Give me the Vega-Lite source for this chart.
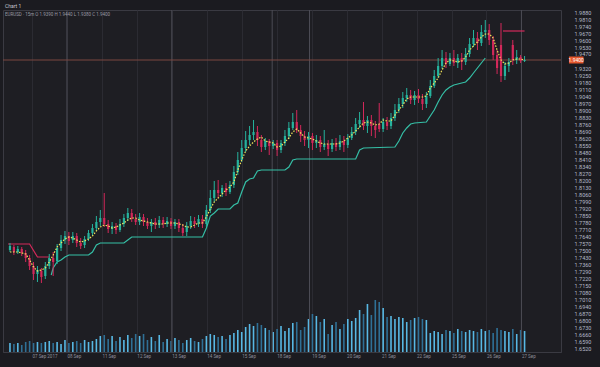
{
"$schema": "https://vega.github.io/schema/vega-lite/v6.json",
"width": 558, "height": 342,
"autosize": {"type": "none"},
"padding": {"left": 3, "top": 10, "right": 39, "bottom": 15},
"background": "#1b1b20",
"config": {"view": {"fill": "#1e1e23", "stroke": "#3a3a42"}, "font": "Roboto", "axis": {"labelOverlap": false, "labelBound": false, "labelFlush": false}},
"title": {"text": "Chart 1", "subtitle": "EURUSD · 15m   O 1.9390  H 1.9440  L 1.9380  C 1.9400", "anchor": "start", "frame": "group", "fontSize": 5, "fontWeight": "normal", "color": "#c8c8d0", "subtitleFontSize": 4.5, "subtitleColor": "#9a9aa4", "subtitlePadding": 3, "offset": -7, "dx": 2},
"datasets": {
"candles": [
{"i":0,"o":1.750,"h":1.757,"l":1.748,"c":1.754,"m":1.748,"v":90},
{"i":1,"o":1.753,"h":1.755,"l":1.745,"c":1.748,"m":1.748,"v":80},
{"i":2,"o":1.748,"h":1.754,"l":1.746,"c":1.751,"m":1.748,"v":90},
{"i":3,"o":1.751,"h":1.753,"l":1.744,"c":1.747,"m":1.747,"v":70},
{"i":4,"o":1.747,"h":1.750,"l":1.738,"c":1.742,"m":1.746,"v":100},
{"i":5,"o":1.742,"h":1.745,"l":1.730,"c":1.734,"m":1.740,"v":110},
{"i":6,"o":1.734,"h":1.738,"l":1.720,"c":1.726,"m":1.733,"v":90},
{"i":7,"o":1.726,"h":1.734,"l":1.718,"c":1.730,"m":1.729,"v":100},
{"i":8,"o":1.729,"h":1.732,"l":1.717,"c":1.723,"m":1.730,"v":90},
{"i":9,"o":1.724,"h":1.738,"l":1.721,"c":1.734,"m":1.732,"v":100},
{"i":10,"o":1.734,"h":1.746,"l":1.731,"c":1.742,"m":1.738,"v":110},
{"i":11,"o":1.742,"h":1.748,"l":1.724,"c":1.738,"m":1.745,"v":90},
{"i":12,"o":1.739,"h":1.756,"l":1.736,"c":1.752,"m":1.753,"v":100},
{"i":13,"o":1.752,"h":1.765,"l":1.749,"c":1.760,"m":1.757,"v":80},
{"i":14,"o":1.760,"h":1.769,"l":1.756,"c":1.764,"m":1.761,"v":120},
{"i":15,"o":1.764,"h":1.768,"l":1.755,"c":1.759,"m":1.763,"v":90},
{"i":16,"o":1.760,"h":1.768,"l":1.757,"c":1.764,"m":1.762,"v":100},
{"i":17,"o":1.764,"h":1.767,"l":1.753,"c":1.757,"m":1.760,"v":110},
{"i":18,"o":1.757,"h":1.762,"l":1.751,"c":1.754,"m":1.758,"v":90},
{"i":19,"o":1.755,"h":1.764,"l":1.752,"c":1.761,"m":1.759,"v":120},
{"i":20,"o":1.761,"h":1.770,"l":1.759,"c":1.767,"m":1.761,"v":100},
{"i":21,"o":1.767,"h":1.776,"l":1.764,"c":1.772,"m":1.764,"v":110},
{"i":22,"o":1.772,"h":1.784,"l":1.769,"c":1.778,"m":1.769,"v":130},
{"i":23,"o":1.778,"h":1.790,"l":1.774,"c":1.782,"m":1.773,"v":160},
{"i":24,"o":1.782,"h":1.807,"l":1.773,"c":1.776,"m":1.775,"v":170},
{"i":25,"o":1.776,"h":1.780,"l":1.767,"c":1.771,"m":1.774,"v":130},
{"i":26,"o":1.771,"h":1.778,"l":1.766,"c":1.774,"m":1.772,"v":160},
{"i":27,"o":1.774,"h":1.777,"l":1.766,"c":1.770,"m":1.773,"v":110},
{"i":28,"o":1.770,"h":1.781,"l":1.768,"c":1.776,"m":1.775,"v":150},
{"i":29,"o":1.776,"h":1.786,"l":1.773,"c":1.782,"m":1.777,"v":120},
{"i":30,"o":1.782,"h":1.792,"l":1.779,"c":1.787,"m":1.780,"v":170},
{"i":31,"o":1.787,"h":1.791,"l":1.778,"c":1.781,"m":1.782,"v":140},
{"i":32,"o":1.781,"h":1.786,"l":1.775,"c":1.778,"m":1.782,"v":180},
{"i":33,"o":1.778,"h":1.787,"l":1.775,"c":1.783,"m":1.780,"v":160},
{"i":34,"o":1.783,"h":1.786,"l":1.774,"c":1.778,"m":1.779,"v":180},
{"i":35,"o":1.778,"h":1.782,"l":1.771,"c":1.774,"m":1.778,"v":120},
{"i":36,"o":1.774,"h":1.781,"l":1.768,"c":1.778,"m":1.777,"v":150},
{"i":37,"o":1.778,"h":1.782,"l":1.771,"c":1.775,"m":1.776,"v":110},
{"i":38,"o":1.775,"h":1.784,"l":1.772,"c":1.780,"m":1.776,"v":170},
{"i":39,"o":1.780,"h":1.783,"l":1.772,"c":1.776,"m":1.776,"v":100},
{"i":40,"o":1.776,"h":1.783,"l":1.773,"c":1.779,"m":1.777,"v":130},
{"i":41,"o":1.779,"h":1.782,"l":1.771,"c":1.774,"m":1.777,"v":110},
{"i":42,"o":1.774,"h":1.781,"l":1.771,"c":1.778,"m":1.777,"v":140},
{"i":43,"o":1.778,"h":1.781,"l":1.768,"c":1.772,"m":1.776,"v":120},
{"i":44,"o":1.772,"h":1.776,"l":1.764,"c":1.767,"m":1.775,"v":90},
{"i":45,"o":1.768,"h":1.778,"l":1.764,"c":1.774,"m":1.773,"v":120},
{"i":46,"o":1.774,"h":1.784,"l":1.771,"c":1.779,"m":1.773,"v":140},
{"i":47,"o":1.779,"h":1.783,"l":1.772,"c":1.776,"m":1.775,"v":110},
{"i":48,"o":1.776,"h":1.785,"l":1.773,"c":1.781,"m":1.777,"v":100},
{"i":49,"o":1.781,"h":1.785,"l":1.772,"c":1.776,"m":1.777,"v":130},
{"i":50,"o":1.776,"h":1.795,"l":1.773,"c":1.790,"m":1.783,"v":160},
{"i":51,"o":1.790,"h":1.810,"l":1.787,"c":1.802,"m":1.791,"v":180},
{"i":52,"o":1.802,"h":1.819,"l":1.798,"c":1.810,"m":1.798,"v":170},
{"i":53,"o":1.810,"h":1.820,"l":1.802,"c":1.807,"m":1.802,"v":150},
{"i":54,"o":1.807,"h":1.815,"l":1.803,"c":1.812,"m":1.806,"v":160},
{"i":55,"o":1.812,"h":1.817,"l":1.804,"c":1.808,"m":1.810,"v":130},
{"i":56,"o":1.808,"h":1.819,"l":1.806,"c":1.815,"m":1.813,"v":170},
{"i":57,"o":1.815,"h":1.834,"l":1.812,"c":1.828,"m":1.818,"v":190},
{"i":58,"o":1.828,"h":1.848,"l":1.825,"c":1.840,"m":1.830,"v":220},
{"i":59,"o":1.840,"h":1.860,"l":1.838,"c":1.852,"m":1.840,"v":200},
{"i":60,"o":1.852,"h":1.869,"l":1.848,"c":1.860,"m":1.849,"v":250},
{"i":61,"o":1.860,"h":1.874,"l":1.855,"c":1.865,"m":1.854,"v":280},
{"i":62,"o":1.865,"h":1.880,"l":1.860,"c":1.868,"m":1.858,"v":260},
{"i":63,"o":1.868,"h":1.874,"l":1.854,"c":1.860,"m":1.861,"v":290},
{"i":64,"o":1.860,"h":1.865,"l":1.848,"c":1.853,"m":1.863,"v":270},
{"i":65,"o":1.853,"h":1.862,"l":1.850,"c":1.859,"m":1.859,"v":240},
{"i":66,"o":1.859,"h":1.861,"l":1.845,"c":1.854,"m":1.858,"v":220},
{"i":67,"o":1.854,"h":1.860,"l":1.851,"c":1.857,"m":1.857,"v":200},
{"i":68,"o":1.857,"h":1.860,"l":1.844,"c":1.850,"m":1.853,"v":230},
{"i":69,"o":1.850,"h":1.860,"l":1.847,"c":1.857,"m":1.854,"v":260},
{"i":70,"o":1.857,"h":1.870,"l":1.854,"c":1.864,"m":1.858,"v":210},
{"i":71,"o":1.864,"h":1.878,"l":1.861,"c":1.872,"m":1.862,"v":240},
{"i":72,"o":1.872,"h":1.887,"l":1.870,"c":1.878,"m":1.868,"v":290},
{"i":73,"o":1.878,"h":1.890,"l":1.867,"c":1.870,"m":1.871,"v":300},
{"i":74,"o":1.870,"h":1.875,"l":1.858,"c":1.864,"m":1.867,"v":220},
{"i":75,"o":1.864,"h":1.869,"l":1.854,"c":1.860,"m":1.863,"v":250},
{"i":76,"o":1.860,"h":1.868,"l":1.852,"c":1.864,"m":1.862,"v":330},
{"i":77,"o":1.864,"h":1.867,"l":1.850,"c":1.857,"m":1.861,"v":380},
{"i":78,"o":1.857,"h":1.865,"l":1.852,"c":1.860,"m":1.859,"v":360},
{"i":79,"o":1.860,"h":1.864,"l":1.848,"c":1.853,"m":1.857,"v":300},
{"i":80,"o":1.853,"h":1.870,"l":1.850,"c":1.856,"m":1.856,"v":330},
{"i":81,"o":1.856,"h":1.860,"l":1.844,"c":1.851,"m":1.856,"v":180},
{"i":82,"o":1.851,"h":1.861,"l":1.848,"c":1.857,"m":1.856,"v":270},
{"i":83,"o":1.857,"h":1.862,"l":1.849,"c":1.853,"m":1.856,"v":300},
{"i":84,"o":1.853,"h":1.865,"l":1.850,"c":1.859,"m":1.857,"v":230},
{"i":85,"o":1.859,"h":1.864,"l":1.848,"c":1.855,"m":1.859,"v":280},
{"i":86,"o":1.855,"h":1.866,"l":1.852,"c":1.862,"m":1.862,"v":330},
{"i":87,"o":1.862,"h":1.873,"l":1.860,"c":1.868,"m":1.865,"v":310},
{"i":88,"o":1.868,"h":1.882,"l":1.865,"c":1.876,"m":1.869,"v":340},
{"i":89,"o":1.876,"h":1.888,"l":1.872,"c":1.880,"m":1.873,"v":420},
{"i":90,"o":1.880,"h":1.898,"l":1.870,"c":1.874,"m":1.877,"v":380},
{"i":91,"o":1.874,"h":1.884,"l":1.867,"c":1.880,"m":1.878,"v":480},
{"i":92,"o":1.880,"h":1.885,"l":1.864,"c":1.874,"m":1.877,"v":370},
{"i":93,"o":1.874,"h":1.879,"l":1.862,"c":1.870,"m":1.875,"v":520},
{"i":94,"o":1.876,"h":1.897,"l":1.868,"c":1.871,"m":1.876,"v":500},
{"i":95,"o":1.871,"h":1.882,"l":1.868,"c":1.878,"m":1.880,"v":440},
{"i":96,"o":1.878,"h":1.883,"l":1.870,"c":1.874,"m":1.879,"v":350},
{"i":97,"o":1.874,"h":1.887,"l":1.871,"c":1.882,"m":1.879,"v":360},
{"i":98,"o":1.882,"h":1.896,"l":1.879,"c":1.890,"m":1.885,"v":330},
{"i":99,"o":1.890,"h":1.902,"l":1.887,"c":1.896,"m":1.890,"v":350},
{"i":100,"o":1.896,"h":1.908,"l":1.892,"c":1.902,"m":1.895,"v":340},
{"i":101,"o":1.902,"h":1.912,"l":1.898,"c":1.905,"m":1.901,"v":300},
{"i":102,"o":1.905,"h":1.910,"l":1.896,"c":1.900,"m":1.903,"v":320},
{"i":103,"o":1.900,"h":1.909,"l":1.895,"c":1.905,"m":1.903,"v":340},
{"i":104,"o":1.905,"h":1.911,"l":1.897,"c":1.901,"m":1.903,"v":350},
{"i":105,"o":1.901,"h":1.906,"l":1.890,"c":1.896,"m":1.903,"v":330},
{"i":106,"o":1.896,"h":1.908,"l":1.892,"c":1.904,"m":1.904,"v":320},
{"i":107,"o":1.904,"h":1.920,"l":1.902,"c":1.914,"m":1.912,"v":190},
{"i":108,"o":1.914,"h":1.930,"l":1.912,"c":1.924,"m":1.917,"v":210},
{"i":109,"o":1.924,"h":1.942,"l":1.922,"c":1.934,"m":1.922,"v":200},
{"i":110,"o":1.934,"h":1.950,"l":1.931,"c":1.942,"m":1.930,"v":180},
{"i":111,"o":1.942,"h":1.948,"l":1.932,"c":1.936,"m":1.937,"v":220},
{"i":112,"o":1.936,"h":1.947,"l":1.934,"c":1.942,"m":1.940,"v":210},
{"i":113,"o":1.942,"h":1.950,"l":1.934,"c":1.937,"m":1.939,"v":190},
{"i":114,"o":1.937,"h":1.946,"l":1.932,"c":1.942,"m":1.938,"v":230},
{"i":115,"o":1.942,"h":1.947,"l":1.930,"c":1.938,"m":1.939,"v":210},
{"i":116,"o":1.938,"h":1.952,"l":1.935,"c":1.946,"m":1.943,"v":200},
{"i":117,"o":1.946,"h":1.962,"l":1.943,"c":1.956,"m":1.950,"v":220},
{"i":118,"o":1.956,"h":1.970,"l":1.953,"c":1.962,"m":1.954,"v":210},
{"i":119,"o":1.962,"h":1.968,"l":1.950,"c":1.957,"m":1.958,"v":200},
{"i":120,"o":1.957,"h":1.975,"l":1.954,"c":1.968,"m":1.963,"v":230},
{"i":121,"o":1.968,"h":1.980,"l":1.962,"c":1.970,"m":1.966,"v":210},
{"i":122,"o":1.970,"h":1.976,"l":1.955,"c":1.960,"m":1.966,"v":220},
{"i":123,"o":1.960,"h":1.964,"l":1.940,"c":1.945,"m":1.962,"v":190},
{"i":124,"o":1.945,"h":1.950,"l":1.926,"c":1.932,"m":1.950,"v":240},
{"i":125,"o":1.955,"h":1.977,"l":1.918,"c":1.924,"m":1.940,"v":220},
{"i":126,"o":1.924,"h":1.938,"l":1.920,"c":1.934,"m":1.936,"v":210},
{"i":127,"o":1.934,"h":1.942,"l":1.928,"c":1.938,"m":1.937,"v":200},
{"i":128,"o":1.955,"h":1.960,"l":1.935,"c":1.940,"m":1.940,"v":230},
{"i":129,"o":1.940,"h":1.950,"l":1.936,"c":1.943,"m":1.941,"v":180},
{"i":130,"o":1.943,"h":1.945,"l":1.937,"c":1.939,"m":1.941,"v":220},
{"i":131,"o":1.939,"h":1.944,"l":1.938,"c":1.940,"m":1.940,"v":210}
],
"stops": [
{"i":10.5,"v":1.725,"s":"long"},{"i":11,"v":1.732,"s":"long"},{"i":12,"v":1.738,"s":"long"},{"i":13,"v":1.740,"s":"long"},{"i":14,"v":1.743,"s":"long"},{"i":15,"v":1.745,"s":"long"},{"i":20,"v":1.745,"s":"long"},{"i":21,"v":1.748,"s":"long"},{"i":22,"v":1.755,"s":"long"},{"i":23,"v":1.757,"s":"long"},{"i":29,"v":1.757,"s":"long"},{"i":30,"v":1.760,"s":"long"},{"i":31,"v":1.763,"s":"long"},{"i":49,"v":1.763,"s":"long"},{"i":50,"v":1.772,"s":"long"},{"i":51,"v":1.784,"s":"long"},{"i":52,"v":1.787,"s":"long"},{"i":53,"v":1.791,"s":"long"},{"i":56,"v":1.791,"s":"long"},{"i":57,"v":1.795,"s":"long"},{"i":58,"v":1.797,"s":"long"},{"i":59,"v":1.808,"s":"long"},{"i":60,"v":1.818,"s":"long"},{"i":61,"v":1.821,"s":"long"},{"i":62,"v":1.822,"s":"long"},{"i":63,"v":1.829,"s":"long"},{"i":64,"v":1.830,"s":"long"},{"i":70,"v":1.830,"s":"long"},{"i":71,"v":1.833,"s":"long"},{"i":72,"v":1.840,"s":"long"},{"i":73,"v":1.841,"s":"long"},{"i":88,"v":1.841,"s":"long"},{"i":89,"v":1.850,"s":"long"},{"i":90,"v":1.852,"s":"long"},{"i":98,"v":1.853,"s":"long"},{"i":99,"v":1.859,"s":"long"},{"i":100,"v":1.867,"s":"long"},{"i":101,"v":1.872,"s":"long"},{"i":102,"v":1.876,"s":"long"},{"i":103,"v":1.877,"s":"long"},{"i":106,"v":1.878,"s":"long"},{"i":107,"v":1.884,"s":"long"},{"i":108,"v":1.890,"s":"long"},{"i":109,"v":1.898,"s":"long"},{"i":110,"v":1.905,"s":"long"},{"i":111,"v":1.910,"s":"long"},{"i":112,"v":1.913,"s":"long"},{"i":113,"v":1.915,"s":"long"},{"i":114,"v":1.916,"s":"long"},{"i":115,"v":1.917,"s":"long"},{"i":116,"v":1.918,"s":"long"},{"i":117,"v":1.922,"s":"long"},{"i":118,"v":1.927,"s":"long"},{"i":119,"v":1.932,"s":"long"},{"i":120,"v":1.937,"s":"long"},{"i":121,"v":1.942,"s":"long"},
{"i":-0.5,"v":1.756,"s":"short1"},{"i":5,"v":1.756,"s":"short1"},{"i":7,"v":1.743,"s":"short1"},{"i":10,"v":1.743,"s":"short1"},
{"i":125.5,"v":1.969,"s":"short2"},{"i":131,"v":1.969,"s":"short2"}
],
"sessions": [{"i":14.5},{"i":41.2},{"i":66.75},{"i":76.25},{"i":130.2}],
"last": [{"p":1.940}]
},
"layer": [
{"data": {"name": "candles"},
 "mark": {"type": "bar", "size": 1.6},
 "encoding": {
  "x": {"field": "i", "type": "quantitative", "scale": {"domain": [-0.5, 139], "nice": false, "zero": false},
        "axis": {"orient": "bottom", "title": null, "tickCount": 200, "values": [5.6, 14.5, 23.4, 32.3, 41.2, 50.1, 59, 67.9, 76.8, 85.7, 94.6, 103.5, 112.4, 121.3, 130.2],
                 "labelExpr": "['07 Sep 2017','08 Sep','11 Sep','12 Sep','13 Sep','14 Sep','15 Sep','18 Sep','19 Sep','20 Sep','21 Sep','22 Sep','25 Sep','26 Sep','27 Sep'][round((datum.value - 5.6) / 8.9)]",
                 "labelAlign": "left", "labelFontSize": 4.5, "labelColor": "#8e8e98", "labelPadding": 1, "labelOverlap": false, "ticks": false,
                 "domain": true, "domainColor": "#3a3a42", "grid": true, "gridColor": "#2b2b32", "gridWidth": 1}},
  "y": {"field": "v", "type": "quantitative", "scale": {"domain": [0, 3420]}, "axis": null},
  "color": {"condition": {"test": "datum.c >= datum.o", "value": "#58b8e4"}, "value": "#2f7096"}
 }
},
{"layer": [
 {"data": {"name": "sessions"},
  "mark": {"type": "rule", "color": "#4c4c55", "strokeWidth": 1},
  "encoding": {"x": {"field": "i", "type": "quantitative"}}},
 {"data": {"name": "last"},
  "mark": {"type": "rule", "color": "#7b4640", "strokeWidth": 1},
  "encoding": {"y": {"field": "p", "type": "quantitative", "scale": {"domain": [1.648, 1.990], "nice": false, "zero": false},
    "axis": {"orient": "right", "title": null, "format": ".4f", "tickCount": 200, "values": [1.652,1.659,1.666,1.673,1.680,1.687,1.694,1.701,1.708,1.715,1.722,1.729,1.736,1.743,1.750,1.757,1.764,1.771,1.778,1.785,1.792,1.799,1.806,1.813,1.820,1.827,1.834,1.841,1.848,1.855,1.862,1.869,1.876,1.883,1.890,1.897,1.904,1.911,1.918,1.925,1.932,1.947,1.953,1.960,1.967,1.974,1.981,1.988],
             "labelFontSize": 5.5, "labelColor": "#b4b8c6", "labelPadding": 13, "labelAlign": "left", "labelOverlap": false, "ticks": false, "domain": false, "grid": false}}}},
 {"data": {"name": "stops"},
  "mark": {"type": "line", "strokeWidth": 1.2},
  "encoding": {"x": {"field": "i", "type": "quantitative"}, "y": {"field": "v", "type": "quantitative"},
   "detail": {"field": "s"},
   "color": {"field": "s", "type": "nominal", "scale": {"domain": ["long", "short1", "short2"], "range": ["#35bfa6", "#d3285a", "#d3285a"]}, "legend": null}}},
 {"data": {"name": "candles"},
  "mark": {"type": "rule", "strokeWidth": 1},
  "encoding": {"x": {"field": "i", "type": "quantitative"}, "y": {"field": "l", "type": "quantitative"}, "y2": {"field": "h"},
   "color": {"condition": {"test": "datum.c >= datum.o", "value": "#26b39e"}, "value": "#d3285a"}}},
 {"data": {"name": "candles"},
  "mark": {"type": "bar", "size": 2.2},
  "encoding": {"x": {"field": "i", "type": "quantitative"}, "y": {"field": "o", "type": "quantitative"}, "y2": {"field": "c"},
   "color": {"condition": {"test": "datum.c >= datum.o", "value": "#26b39e"}, "value": "#d3285a"}}},
 {"data": {"name": "candles"},
  "mark": {"type": "line", "color": "#f0e45a", "strokeWidth": 1.2, "strokeDash": [1.5, 1.5]},
  "encoding": {"x": {"field": "i", "type": "quantitative"}, "y": {"field": "m", "type": "quantitative"}}},
 {"data": {"name": "last"},
  "mark": {"type": "rule", "color": "#e5572d", "strokeWidth": 7, "strokeCap": "butt"},
  "encoding": {"x": {"datum": 142.3}, "x2": {"datum": 146}, "y": {"field": "p", "type": "quantitative"}}},
 {"data": {"name": "last"},
  "mark": {"type": "text", "color": "#ffffff", "fontSize": 5, "align": "center", "baseline": "middle"},
  "encoding": {"x": {"datum": 144.15}, "y": {"field": "p", "type": "quantitative"}, "text": {"field": "p", "format": ".4f"}}}
 ]}
],
"resolve": {"scale": {"y": "independent"}}
}
